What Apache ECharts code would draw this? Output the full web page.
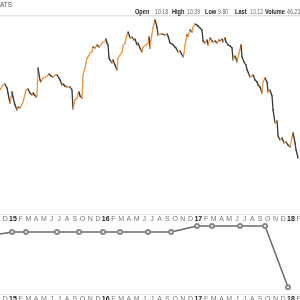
<!DOCTYPE html>
<html><head><meta charset="utf-8">
<script src="https://cdn.jsdelivr.net/npm/echarts@6/dist/echarts.min.js"></script>
<style>html,body{margin:0;padding:0;background:#fff}#c{width:300px;height:300px}</style>
</head><body><div id="c"></div>
<script>
// months since Jan 2015 (fractional)
const priceMonths = [-1.68,-1.30,-1.04,-0.78,-0.65,-0.39,-0.13,0,0.26,0.52,0.65,0.91,1.30,1.68,1.94,2.20,2.46,2.59,2.98,3.11,3.24,3.50,3.63,3.89,4.27,4.66,4.92,5.18,5.44,5.70,5.96,6.09,6.35,6.48,6.74,6.99,7.38,7.64,7.77,8.03,8.29,8.42,8.55,8.68,8.94,9.07,9.33,9.46,9.59,9.72,9.97,10.23,10.36,10.62,10.88,11.14,11.27,11.53,11.79,12.05,12.18,12.31,12.44,12.56,12.82,12.95,13.21,13.47,13.60,13.86,14.12,14.25,14.51,14.77,14.90,15.16,15.41,15.67,15.80,16.06,16.19,16.45,16.71,16.84,17.23,17.49,17.62,17.75,17.88,18.13,18.39,18.65,18.78,19.04,19.30,19.69,19.95,20.08,20.34,20.60,20.73,20.98,21.11,21.37,21.63,21.76,22.02,22.15,22.28,22.54,22.67,22.93,23.19,23.32,23.58,23.83,23.96,24.22,24.48,24.61,24.87,25.13,25.26,25.52,25.78,25.91,26.17,26.42,26.68,26.81,27.07,27.20,27.46,27.59,27.85,28.11,28.37,28.50,28.76,29.02,29.27,29.53,29.66,29.92,30.18,30.31,30.44,30.70,30.96,31.09,31.35,31.61,31.74,31.99,32.25,32.38,32.64,32.90,33.03,33.29,33.55,33.68,33.94,34.20,34.33,34.59,34.84,35.10,35.36,35.62,35.88,36.14,36.27,36.53,36.66,36.92];
const priceValues = [16.92,17.42,17.52,17.12,16.62,15.62,16.72,16.22,15.42,14.92,15.22,15.12,15.72,16.92,17.02,16.62,16.42,16.62,16.22,16.32,19.12,17.92,17.72,18.12,18.22,18.52,18.32,18.22,18.42,18.42,18.12,17.92,17.42,17.52,17.32,17.22,17.22,16.92,15.02,15.92,16.12,16.52,16.72,16.32,16.12,18.42,19.12,19.62,20.12,20.22,20.62,20.72,21.22,21.12,21.42,21.22,21.32,21.62,21.72,22.02,21.62,21.42,20.12,19.92,19.62,19.92,19.42,18.92,20.12,20.42,20.72,21.32,21.62,22.42,22.72,22.12,22.22,21.92,22.02,21.42,21.62,21.12,20.72,21.22,21.42,21.62,22.22,21.12,21.92,23.12,23.92,23.22,22.42,22.52,22.52,22.42,22.52,22.32,21.62,21.52,21.42,21.22,21.12,20.72,20.82,20.62,20.22,20.62,21.42,22.42,22.32,22.92,22.72,23.22,23.52,23.42,23.32,23.12,22.92,21.82,21.62,21.92,21.42,22.12,21.82,21.72,21.82,21.62,21.92,21.82,22.02,21.72,22.12,21.72,21.42,21.32,21.12,19.92,20.32,19.72,20.62,21.42,20.22,19.72,19.42,18.92,18.72,18.22,18.32,18.42,17.92,17.72,17.42,17.22,16.62,17.72,18.12,17.72,16.72,16.92,16.32,14.92,13.62,13.82,12.32,11.92,12.12,11.62,11.72,11.42,11.22,12.22,12.62,11.62,10.92,10.12];
const divMonths = [-3.5,-0.13,1.68,5.70,8.55,11.66,13.86,17.49,20.47,23.83,25.78,29.40,32.64,35.62];
const divValues = [0.293,0.30,0.30,0.30,0.30,0.30,0.30,0.30,0.30,0.31,0.31,0.31,0.31,0.208];
const monthLetters = ['J','F','M','A','M','J','J','A','S','O','N','D'];
const headerLabels = ['Open','High','Low','Last','Volume'];
const headerValues = ['10.18','10.39','9.80','10.12','46,231'];

const orange = '#f5923a', dark = '#383838';
const segs = [];
for (let i = 0; i < priceMonths.length - 1; i++) {
  segs.push([priceMonths[i], priceValues[i], priceMonths[i+1], priceValues[i+1]]);
}
function fmt(v) {
  if (Math.abs(v - Math.round(v)) > 0.01) return '';
  v = Math.round(v);
  const idx = ((v % 12) + 12) % 12;
  if (idx === 0) return '{y|' + String(2015 + Math.floor(v / 12)).slice(2) + '}';
  return monthLetters[idx];
}
const xCommon = {
  type: 'value', min: -2, max: 37.17, interval: 1,
  axisLine: {show: true, lineStyle: {color: '#e2e2e2', width: 1}},
  axisTick: {show: false}, splitLine: {show: false},
  axisLabel: {formatter: fmt, fontSize: 7, color: '#777', margin: 2, fontFamily: 'Liberation Sans',
    showMinLabel: true, showMaxLabel: true, hideOverlap: false,
    rich: {y: {fontSize: 7, fontWeight: 'bold', color: '#222', fontFamily: 'Liberation Sans'}}}
};
const hx = [135, 172, 205, 235, 265];
const vx = [155, 187, 218, 250, 287];
const graphics = [
  {type: 'text', x: 0, y: 5, style: {text: 'ATS', fontSize: 6.5, fill: '#555', fontFamily: 'Liberation Sans', verticalAlign: 'middle'}},
  {type: 'rect', shape: {x: 0, y: 15, width: 300, height: 1.5}, style: {fill: '#e3e3e3'}}
];
headerLabels.forEach((t, i) => {
  graphics.push({type: 'text', x: hx[i], y: 12, scaleX: 0.8, style: {text: t, fontSize: 7, fontWeight: 'bold', fill: '#222', fontFamily: 'Liberation Sans', verticalAlign: 'middle'}});
  graphics.push({type: 'text', x: vx[i], y: 12, scaleX: 0.75, style: {text: headerValues[i], fontSize: 7, fill: '#666', fontFamily: 'Liberation Sans', verticalAlign: 'middle'}});
});
const chart = echarts.init(document.getElementById('c'), null, {renderer: 'canvas'});
chart.setOption({
  animation: false,
  graphic: graphics,
  grid: [
    {left: -2.44, right: 0, top: 0, height: 214, containLabel: false, outerBoundsMode: 'none'},
    {left: -2.44, right: 0, top: 220, height: 74, containLabel: false, outerBoundsMode: 'none'}
  ],
  xAxis: [Object.assign({gridIndex: 0}, xCommon), Object.assign({gridIndex: 1}, xCommon)],
  yAxis: [
    {gridIndex: 0, type: 'value', min: 4.52, max: 25.92, show: false},
    {gridIndex: 1, type: 'value', min: 0.19667, max: 0.32, show: false}
  ],
  series: [
    {
      type: 'custom', xAxisIndex: 0, yAxisIndex: 0, data: segs,
      encode: {x: [0, 2], y: [1, 3]},
      renderItem: function (params, api) {
        const p0 = api.coord([api.value(0), api.value(1)]);
        const p1 = api.coord([api.value(2), api.value(3)]);
        const up = api.value(3) >= api.value(1);
        return {type: 'line', shape: {x1: p0[0], y1: p0[1], x2: p1[0], y2: p1[1]},
          style: {stroke: up ? orange : dark, lineWidth: 1.3, lineCap: 'round'}};
      }
    },
    {
      type: 'line', xAxisIndex: 1, yAxisIndex: 1,
      data: divMonths.map((m, i) => [m, divValues[i]]),
      symbol: 'emptyCircle', symbolSize: 4, showAllSymbol: true,
      lineStyle: {color: '#6a6a6a', width: 1.5},
      itemStyle: {color: '#888', borderColor: '#888', borderWidth: 1}
    }
  ]
});
</script></body></html>
